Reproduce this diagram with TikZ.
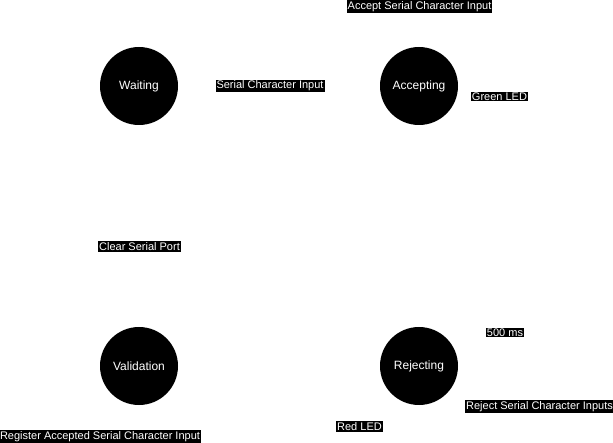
\documentclass[tikz,border=0pt]{standalone}
\usepackage{fontspec}
\setmainfont{Liberation Sans}

\begin{document}
\begin{tikzpicture}[x=1pt,y=-1pt,line cap=round,line join=round,
  state/.style={circle,fill=black,minimum size=78pt,inner sep=0pt,text=white,font=\fontsize{12}{14}\selectfont},
  lbl/.style={fill=black,text=white,inner sep=1pt,font=\fontsize{11}{13}\selectfont}]
  \useasboundingbox (0,0) rectangle (613,443);
  \node[state] (waiting) at (139,86) {Waiting}; \node[state] (accepting) at (419,86) {Accepting};
  \node[state] (validation) at (139,366) {Validation}; \node[state] (rejecting) at (419,366) {Rejecting};
  \node[lbl] (serialin) at (270,86) {Serial Character Input}; \node[lbl] (acceptin) at (419.5,6.5) {Accept Serial Character Input};
  \node[lbl] (greenled) at (499.5,96.5) {Green LED}; \node[lbl] (clearport) at (139.5,246.5) {Clear Serial Port};
  \node[lbl] (halfsec) at (505,332.5) {500 ms}; \node[lbl] (rejectin) at (539.5,406.5) {Reject Serial Character Inputs};
  \node[lbl] (redled) at (359.5,426.5) {Red LED}; \node[lbl] (register) at (100,436.5) {Register Accepted Serial Character Input};
\end{tikzpicture}
\end{document}
